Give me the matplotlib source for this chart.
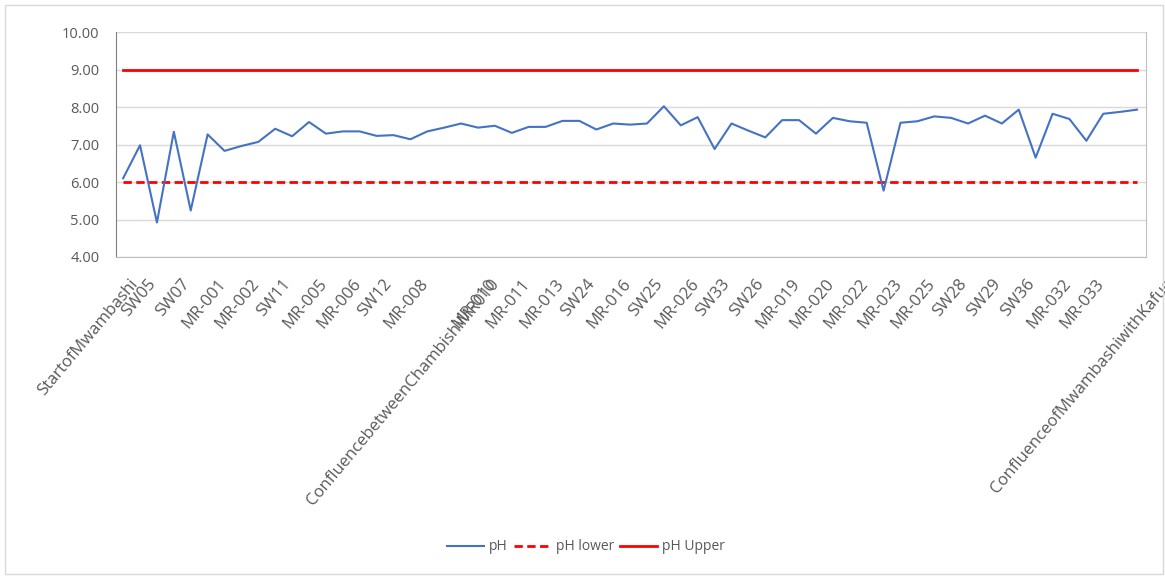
import matplotlib
matplotlib.use("Agg")
import matplotlib.pyplot as plt
from matplotlib.patches import Rectangle
from matplotlib.transforms import ScaledTranslation

# pH along the Mwambashi sampling transect (every station, upstream -> downstream)
ph = [
    6.10, 6.98, 4.92, 7.34, 5.24, 7.27, 6.83, 6.96, 7.07, 7.42,
    7.22, 7.60, 7.29, 7.35, 7.35, 7.23, 7.25, 7.14, 7.35, 7.45,
    7.56, 7.45, 7.50, 7.31, 7.47, 7.47, 7.63, 7.63, 7.40, 7.56,
    7.53, 7.56, 8.02, 7.51, 7.73, 6.88, 7.56, 7.37, 7.19, 7.65,
    7.65, 7.29, 7.71, 7.62, 7.58, 5.77, 7.58, 7.62, 7.75, 7.71,
    7.56, 7.77, 7.56, 7.93, 6.65, 7.82, 7.68, 7.10, 7.82, 7.87,
    7.93,
]
ph_lower = 6.0
ph_upper = 9.0

# only every second station gets a label on the axis
station_labels = [
    "StartofMwambashi", "SW05", "SW07", "MR-001", "MR-002", "SW11",
    "MR-005", "MR-006", "SW12", "MR-008", "ConfluencebetweenChambishiMR010",
    "MR-010", "MR-011", "MR-013", "SW24", "MR-016", "SW25", "MR-026",
    "SW33", "SW26", "MR-019", "MR-020", "MR-022", "MR-023", "MR-025",
    "SW28", "SW29", "SW36", "MR-032", "MR-033",
    "ConfluenceofMwambashiwithKafue",
]
label_step = 2

y_ticks = [4, 5, 6, 7, 8, 9, 10]

TEXT = "#595959"
GRID = "#D9D9D9"
BLUE = "#4472C4"
RED = "#FF0000"

plt.rcParams["font.family"] = ["Open Sans", "DejaVu Sans"]

fig = plt.figure(figsize=(11.65, 5.77), dpi=100)
ax = fig.add_axes([0.0996, 0.5546, 0.8841, 0.3899])

x = list(range(len(ph)))
ax.plot(x, ph, color=BLUE, lw=1.5, label="pH", zorder=3)
ax.plot(x, [ph_lower] * len(x), color=RED, lw=2, ls=(0, (3, 1.6)),
        label="pH lower", zorder=2)
ax.plot(x, [ph_upper] * len(x), color=RED, lw=2, label="pH Upper", zorder=2)

ax.set_ylim(y_ticks[0], y_ticks[-1])
ax.set_yticks(y_ticks)
ax.set_yticklabels([f"{v:.2f}" for v in y_ticks], fontsize=10.5, color=TEXT)
ax.yaxis.grid(True, color=GRID, lw=1)
ax.set_axisbelow(True)

ax.set_xlim(-0.42, len(ph) - 1 + 0.53)
ax.set_xticks(x[::label_step])
ax.set_xticklabels([])
ax.tick_params(axis="both", length=0)
ax.tick_params(axis="y", pad=12)

# rotated station names, placed by their bounding box like a spreadsheet chart:
# longer names sit further to the right of their tick
labels = []
for pos, name in zip(x[::label_step], station_labels):
    t = ax.text(pos, 0, name, transform=ax.get_xaxis_transform(), rotation=50,
                ha="right", va="top", fontsize=12, color=TEXT, clip_on=False)
    labels.append(t)
fig.canvas.draw()
renderer = fig.canvas.get_renderer()
for t in labels:
    w = t.get_window_extent(renderer).width
    dx = (0.25 * w - 8) / fig.dpi
    dy = -19 / fig.dpi
    t.set_transform(ax.get_xaxis_transform()
                    + ScaledTranslation(dx, dy, fig.dpi_scale_trans))

ax.spines["top"].set_visible(False)
ax.spines["left"].set_color("#7F7F7F")
ax.spines["right"].set_color("#BFBFBF")
ax.spines["bottom"].set_color("#BFBFBF")

fig.legend(loc="center", bbox_to_anchor=(0.503, 0.052), ncol=3, frameon=False,
           fontsize=10, labelcolor=TEXT, handlelength=2.7, handletextpad=0.35,
           columnspacing=0.4)

# chart area border
fig.patches.append(Rectangle((0.004, 0.006), 0.994, 0.986, transform=fig.transFigure,
                             fill=False, edgecolor=GRID, lw=1))

fig.savefig("out.png", dpi=100)
